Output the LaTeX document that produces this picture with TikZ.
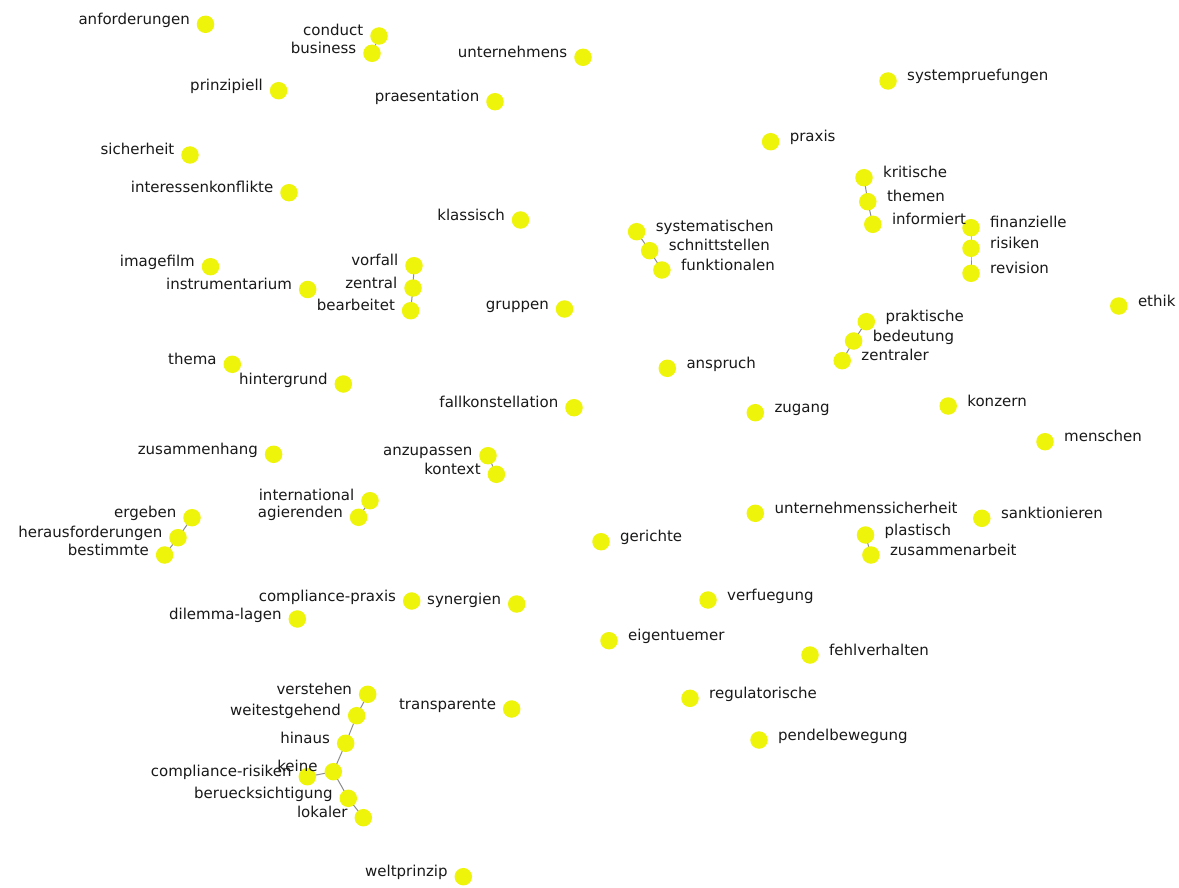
\documentclass[tikz,border=0pt]{standalone}
\usepackage{fontspec}
\setmainfont{DejaVu Sans}
\definecolor{dotyellow}{RGB}{238,244,10}
\definecolor{edgegray}{RGB}{140,140,140}
\definecolor{txt}{RGB}{25,25,25}
\tikzset{
  dot/.style={circle,fill=dotyellow,draw=none,minimum size=17.5pt,inner sep=0pt},
  lblL/.style={anchor=base east,inner sep=0pt,text=txt,font=\fontsize{15}{17}\selectfont},
  lblR/.style={anchor=base west,inner sep=0pt,text=txt,font=\fontsize{15}{17}\selectfont},
  link/.style={draw=edgegray,line width=1pt}
}
\newcommand\wordL[4]{\node[dot] (#1) at (#2,#3) {};}
\newcommand\wordR[4]{\node[dot] (#1) at (#2,#3) {};}
\newcommand\textL[2]{\node[lblL] (#1-t) at ([xshift=-15.5pt,yshift=-0.5pt]#1.center) {#2};}
\newcommand\textR[2]{\node[lblR] (#1-t) at ([xshift=19pt,yshift=-0.5pt]#1.center) {#2};}
\begin{document}
\begin{tikzpicture}[x=1pt,y=-1pt]
\useasboundingbox[fill=white] (0,0) rectangle (1179,888);
% coordinates of dots
\coordinate (c-anforderungen) at (205.5,24.3);
% left-labelled words
\foreach \n/\x/\y in {
 anforderungen/205.5/24.3, conduct/379/36, business/372/53.3, unternehmens/583/57.3,
 prinzipiell/278.6/90.7, praesentation/495/101.7, sicherheit/190/155,
 interessenkonflikte/289/192.7, klassisch/520.5/220, imagefilm/210.5/266.7,
 instrumentarium/307.7/289.5, vorfall/414/265.7, zentral/413/288, bearbeitet/410.6/310.7,
 gruppen/564.5/309, thema/232.3/364.3, hintergrund/343.3/384, fallkonstellation/574/407.7,
 zusammenhang/273.6/454.3, anzupassen/488/455.7, kontext/496.4/474.3,
 international/370/500.7, agierenden/358.6/517.3, ergeben/192/517.7,
 herausforderungen/178/537.7, bestimmte/164.6/555, compliance-praxis/411.7/601,
 synergien/516.7/604, dilemma-lagen/297.3/619, verstehen/367.7/694.3,
 weitestgehend/356.7/715.7, transparente/511.7/709, hinaus/345.7/743.3,
 keine/333.3/771.7, compliance-risiken/307.3/776.7, beruecksichtigung/348.3/798.3,
 lokaler/363.3/817.7, weltprinzip/463.3/876.7,
 systempruefungen/888/81, praxis/770.6/141.7, kritische/864/177.7, themen/867.8/201.7,
 informiert/872.8/224.3, finanzielle/971/227.7, risiken/971/248.3, revision/971/273.3,
 systematischen/636.6/231.7, schnittstellen/649.7/250.7, funktionalen/661.9/270,
 ethik/1118.8/306, praktische/866.3/321.7, bedeutung/853.6/341, zentraler/842.2/360.7,
 anspruch/667.3/368.3, zugang/755.3/412.7, konzern/948.2/406, menschen/1045/441.7,
 unternehmenssicherheit/755.3/513.3, sanktionieren/981.8/518.3, plastisch/865.5/535,
 zusammenarbeit/870.9/555, gerichte/601/541.7, verfuegung/708/600,
 eigentuemer/609/640.7, fehlverhalten/810/655, regulatorische/690/698.3,
 pendelbewegung/759/740}
 { \coordinate (p-\n) at (\x,\y); }
% connectors
\draw[link] (p-conduct) -- (p-business);
\draw[link] (p-vorfall) -- (p-zentral) -- (p-bearbeitet);
\draw[link] (p-anzupassen) -- (p-kontext);
\draw[link] (p-international) -- (p-agierenden);
\draw[link] (p-ergeben) -- (p-herausforderungen) -- (p-bestimmte);
\draw[link] (p-kritische) -- (p-themen) -- (p-informiert);
\draw[link] (p-finanzielle) -- (p-risiken) -- (p-revision);
\draw[link] (p-systematischen) -- (p-schnittstellen) -- (p-funktionalen);
\draw[link] (p-praktische) -- (p-bedeutung) -- (p-zentraler);
\draw[link] (p-plastisch) -- (p-zusammenarbeit);
\draw[link] (p-verstehen) -- (p-weitestgehend) -- (p-hinaus) -- (p-keine);
\draw[link] (p-keine) -- (p-compliance-risiken);
\draw[link] (p-keine) -- (p-beruecksichtigung) -- (p-lokaler);
% dots
\foreach \n in {anforderungen, conduct, business, unternehmens, prinzipiell, praesentation,
 sicherheit, interessenkonflikte, klassisch, imagefilm, instrumentarium, vorfall, zentral,
 bearbeitet, gruppen, thema, hintergrund, fallkonstellation, zusammenhang, anzupassen,
 kontext, international, agierenden, ergeben, herausforderungen, bestimmte,
 compliance-praxis, synergien, dilemma-lagen, verstehen, weitestgehend, transparente,
 hinaus, keine, compliance-risiken, beruecksichtigung, lokaler, weltprinzip,
 systempruefungen, praxis, kritische, themen, informiert, finanzielle, risiken, revision,
 systematischen, schnittstellen, funktionalen, ethik, praktische, bedeutung, zentraler,
 anspruch, zugang, konzern, menschen, unternehmenssicherheit, sanktionieren, plastisch,
 zusammenarbeit, gerichte, verfuegung, eigentuemer, fehlverhalten, regulatorische,
 pendelbewegung}
 { \node[dot] (\n) at (p-\n) {}; }
% labels
\foreach \n in {anforderungen, conduct, business, unternehmens, prinzipiell, praesentation,
 sicherheit, interessenkonflikte, klassisch, imagefilm, instrumentarium, vorfall, zentral,
 bearbeitet, gruppen, thema, hintergrund, fallkonstellation, zusammenhang, anzupassen,
 kontext, international, agierenden, ergeben, herausforderungen, bestimmte,
 compliance-praxis, synergien, dilemma-lagen, verstehen, weitestgehend, transparente,
 hinaus, keine, compliance-risiken, beruecksichtigung, lokaler, weltprinzip}
 { \node[lblL] (\n-t) at ([xshift=-15.5pt]\n.center) {\n}; }
\foreach \n in {systempruefungen, praxis, kritische, themen, informiert, finanzielle,
 risiken, revision, systematischen, schnittstellen, funktionalen, ethik, praktische,
 bedeutung, zentraler, anspruch, zugang, konzern, menschen, unternehmenssicherheit,
 sanktionieren, plastisch, zusammenarbeit, gerichte, verfuegung, eigentuemer,
 fehlverhalten, regulatorische, pendelbewegung}
 { \node[lblR] (\n-t) at ([xshift=19pt]\n.center) {\n}; }
\end{tikzpicture}
\end{document}
